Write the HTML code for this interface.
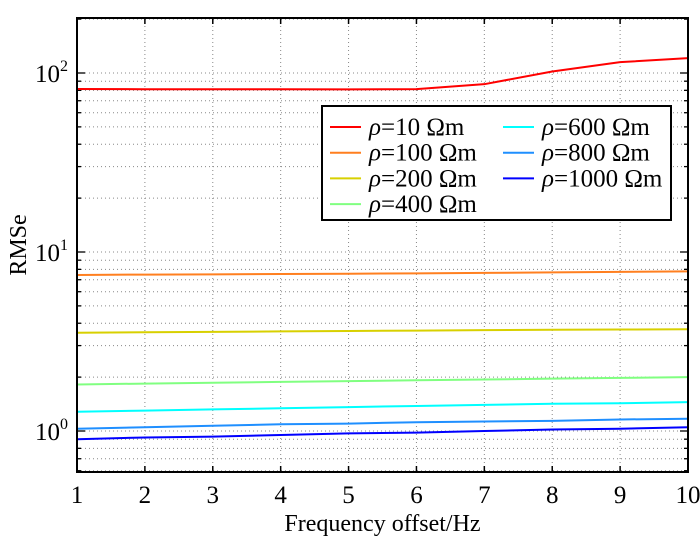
<!DOCTYPE html>
<html><head><meta charset="utf-8"><style>
body{margin:0;background:#fff;}
svg{display:block;font-family:"Liberation Serif",serif;}
</style></head><body>
<svg id="chart" width="700" height="539"></svg>
<script>
const xCats=[1,2,3,4,5,6,7,8,9,10];
const seriesNames=["ρ=10 Ωm","ρ=100 Ωm","ρ=200 Ωm","ρ=400 Ωm","ρ=600 Ωm","ρ=800 Ωm","ρ=1000 Ωm"];
const seriesColors=["#ff0000","#ff7f1f","#d8d000","#80ff80","#00ffff","#1f8fff","#0000ff"];
const s10=[81.4,81.2,81.2,81.2,81.0,81.3,86.6,102,115,121];
const s100=[7.44,7.48,7.50,7.53,7.56,7.60,7.64,7.69,7.74,7.80];
const s200=[3.54,3.56,3.58,3.60,3.62,3.64,3.66,3.68,3.69,3.70];
const s400=[1.82,1.84,1.86,1.88,1.90,1.92,1.94,1.96,1.98,2.00];
const s600=[1.28,1.30,1.32,1.34,1.36,1.38,1.40,1.42,1.43,1.45];
const s800=[1.03,1.05,1.07,1.09,1.10,1.12,1.13,1.14,1.16,1.17];
const s1000=[0.90,0.92,0.93,0.95,0.97,0.98,1.00,1.02,1.03,1.05];
const yTickLabels=["10","10","10"];
const yTickExps=["0","1","2"];
const yTickVals=[1,10,100];

const allSeries=[s10,s100,s200,s400,s600,s800,s1000];
const L=77,R=688,T=18,B=472;
const X=v=>L+(v-1)*(R-L)/9;
const Y=v=>431-179*Math.log10(v);
const svg=document.getElementById('chart');
const NS="http://www.w3.org/2000/svg";
function mk(tag,attrs,parent){const e=document.createElementNS(NS,tag);for(const k in attrs)e.setAttribute(k,attrs[k]);(parent||svg).appendChild(e);return e;}

const grid=mk('g',{});


const ticks=mk('g',{});


xCats.forEach(c=>{
  const x=X(c);
  if(c>1&&c<10) mk('line',{x1:x,x2:x,y1:T,y2:B,stroke:'#888','stroke-width':1,'stroke-dasharray':'1,3'},grid);
  mk('line',{x1:x,x2:x,y1:B,y2:B-6,stroke:'#000','stroke-width':1.5},ticks);
  mk('line',{x1:x,x2:x,y1:T,y2:T+6,stroke:'#000','stroke-width':1.5},ticks);
  const t=mk('text',{x:x,y:503,'font-size':25,'text-anchor':'middle',fill:'#000'});
  t.textContent=c;
  
  
});
for(let d=-1;d<=2;d++){
  for(let m=1;m<10;m++){
    const v=m*Math.pow(10,d);const y=Y(v);
    if(y<T||y>B)continue;
    mk('line',{x1:L,x2:R,y1:y,y2:y,stroke:'#888','stroke-width':1,'stroke-dasharray':'1,3'},grid);
    const len=m===1?8:4;
    mk('line',{x1:L,x2:L+len,y1:y,y2:y,stroke:'#000','stroke-width':1.3},ticks);
    mk('line',{x1:R,x2:R-len,y1:y,y2:y,stroke:'#000','stroke-width':1.3},ticks);
  }
}
yTickVals.forEach((v,i)=>{
  const t=mk('text',{x:68,y:Y(v)+9,'font-size':25,'text-anchor':'end',fill:'#000'});
  
  
  t.innerHTML=yTickLabels[i]+'<tspan font-size="16" dy="-11">'+yTickExps[i]+'</tspan>';
});
allSeries.forEach((s,i)=>{
  const p=mk('polyline',{points:s.map((v,j)=>X(xCats[j])+','+Y(v)).join(' '),fill:'none',stroke:seriesColors[i],'stroke-width':2});
  
  
});
const frame=mk('rect',{x:L,y:T,width:R-L,height:B-T,fill:'none',stroke:'#000','stroke-width':2});


const xt=mk('text',{x:(L+R)/2,y:531,'font-size':24,'text-anchor':'middle'});
xt.textContent='Frequency offset/Hz';


const yt=mk('text',{x:0,y:0,'font-size':24,'text-anchor':'middle',transform:'translate(26,245) rotate(-90)'});
yt.textContent='RMSe';


const lg=mk('g',{});


mk('rect',{x:322,y:106,width:349,height:114,fill:'#fff',stroke:'#000','stroke-width':2},lg);
seriesNames.forEach((n,i)=>{
  const col=i<4?0:1,row=i<4?i:i-4;
  const lx=col?503:330,ty=127+row*25.7;
  const e=mk('g',{},lg);
  
  
  mk('line',{x1:lx,x2:lx+31,y1:ty,y2:ty,stroke:seriesColors[i],'stroke-width':2},e);
  const t=mk('text',{x:lx+39,y:ty+8,'font-size':25},e);
  t.innerHTML='<tspan font-style="italic">ρ</tspan>'+n.slice(1);
});
</script>
</body></html>
